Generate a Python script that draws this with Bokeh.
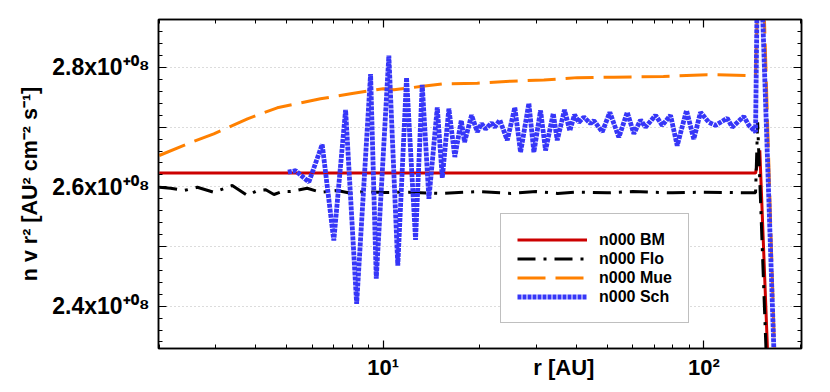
import numpy as np
from bokeh.plotting import figure
from bokeh.models import (FixedTicker, LogAxis, LinearAxis, Range1d, Legend,
                          LegendItem)
from bokeh.embed import file_html
from bokeh.resources import INLINE

# ---------------- data (values in units of 1e8 AU^2 cm^-2 s^-1) ----------------
bm_r = [2.0, 145.0, 149.5, 164.0]
bm_v = [2.623, 2.623, 2.661, 2.10]

flo_r = [2.0, 2.17, 2.39, 2.63, 2.96, 3.38, 3.77, 4.05, 4.30, 4.56, 4.84, 5.14,
         5.79, 6.37, 7.19, 7.91, 8.70, 10.04, 12.0, 15.0, 20.0, 25.0, 30.0, 35.0,
         40.0, 50.0, 60.0, 80.0, 100.0, 145.0, 147.2, 162.0]
flo_v = [2.5993, 2.5977, 2.5938, 2.5993, 2.5909, 2.6022, 2.5854, 2.5938, 2.5950,
         2.5871, 2.5921, 2.5921, 2.5977, 2.5909, 2.5938, 2.5893, 2.5921, 2.5904,
         2.591, 2.589, 2.592, 2.589, 2.592, 2.589, 2.591, 2.590, 2.592, 2.590,
         2.591, 2.590, 2.708, 2.10]

mue_r = [2.0, 2.45, 2.96, 3.77, 4.67, 6.37, 7.91, 10.0, 10.8, 13.07, 15.45,
         19.65, 24.96, 31.7, 40.3, 52.4, 74.8, 102.5, 136.6, 145.0, 150.2, 171.1]
mue_v = [2.6525, 2.672, 2.6888, 2.714, 2.7324, 2.7475, 2.756, 2.7643, 2.7626,
         2.768, 2.7727, 2.7737, 2.777, 2.779, 2.783, 2.7837, 2.785, 2.788,
         2.7866, 2.787, 3.10, 2.10]

sch_r = [5.04, 5.33, 5.86, 6.45, 7.01, 7.63, 8.26, 9.13, 9.51, 10.41, 11.10,
         11.82, 12.61, 13.23, 13.88, 14.74, 15.28, 16.02, 16.72, 17.51, 17.93,
         18.86, 19.65, 20.26, 20.85, 21.77, 22.29, 23.10, 24.37, 25.73, 26.81,
         28.46, 29.50, 30.95, 32.08, 33.91, 34.89, 36.77, 38.19, 39.51, 40.75,
         42.24, 44.33, 45.39, 48.21, 50.91, 54.31, 57.69, 60.49, 63.47, 65.79,
         70.70, 74.18, 78.73, 82.60, 88.31, 93.06, 97.65, 103.7, 108.8, 118.3,
         122.6, 133.3, 138.2, 145.0, 148.0, 170.9]
sch_v = [2.6245, 2.627, 2.608, 2.671, 2.510, 2.729, 2.404, 2.789, 2.446, 2.820,
         2.468, 2.783, 2.511, 2.771, 2.580, 2.733, 2.615, 2.731, 2.650, 2.711,
         2.675, 2.720, 2.692, 2.706, 2.697, 2.707, 2.700, 2.712, 2.678, 2.733,
         2.658, 2.740, 2.658, 2.728, 2.661, 2.723, 2.678, 2.729, 2.694, 2.721,
         2.708, 2.717, 2.706, 2.711, 2.692, 2.725, 2.683, 2.725, 2.689, 2.712,
         2.700, 2.720, 2.703, 2.720, 2.669, 2.728, 2.680, 2.725, 2.708, 2.703,
         2.715, 2.700, 2.718, 2.703, 2.692, 3.10, 2.10]

series_labels = ["n000 BM", "n000 Flo", "n000 Mue", "n000 Sch"]

x_major = [10, 100]
x_minor = [2, 3, 4, 5, 6, 7, 8, 9, 20, 30, 40, 50, 60, 70, 80, 90, 200]
x_label_pos = [10, 36.6, 100]
x_labels = {10: "10\u00b9", 36.6: "r [AU]", 100: "10\u00b2"}

y_major = [2.4e8, 2.5e8, 2.6e8, 2.7e8, 2.8e8]
y_minor = [round(2.34 + 0.02 * i, 2) * 1e8 for i in range(28)]
y_labels = {2.4e8: "2.4x10\u207a\u2070\u2078", 2.5e8: "",
            2.6e8: "2.6x10\u207a\u2070\u2078", 2.7e8: "",
            2.8e8: "2.8x10\u207a\u2070\u2078"}
y_title = "n v r\u00b2 [AU\u00b2 cm\u207b\u00b2 s\u207b\u00b9]"

SCALE = 1e8
FONT = "Liberation Sans"

p = figure(width=822, height=384, x_axis_type="log",
           x_range=Range1d(1.99, 201.7), y_range=Range1d(2.3291e8, 2.8804e8),
           output_backend="svg", toolbar_location=None,
           min_border_left=158, min_border_right=21,
           min_border_top=19, min_border_bottom=36)
p.background_fill_color = "white"
p.border_fill_color = "white"
p.outline_line_color = "black"
p.outline_line_width = 1.5

xt = FixedTicker(ticks=x_major, minor_ticks=x_minor)
yt = FixedTicker(ticks=y_major, minor_ticks=y_minor)


def style_axis(ax, size="22px"):
    ax.axis_line_color = "black"
    ax.axis_line_width = 1.5
    ax.major_tick_in = 8
    ax.major_tick_out = 0
    ax.minor_tick_in = 4
    ax.minor_tick_out = 0
    ax.major_tick_line_color = "black"
    ax.minor_tick_line_color = "black"
    ax.major_tick_line_width = 1.2
    ax.minor_tick_line_width = 1
    ax.major_label_text_font = FONT
    ax.major_label_text_font_style = "bold"
    ax.major_label_text_font_size = size
    ax.major_label_text_color = "black"


# bottom axis: tick marks only
xa = p.xaxis[0]
xa.ticker = xt
style_axis(xa)
xa.major_label_overrides = {10: "", 100: ""}
xa.major_label_text_font_size = "1px"
xa.major_label_standoff = 0

# bottom label row: tick labels and the axis title on one line
xl = LogAxis(ticker=FixedTicker(ticks=x_label_pos, minor_ticks=[]),
             major_label_overrides=x_labels)
style_axis(xl)
xl.axis_line_color = None
xl.major_tick_line_color = None
xl.minor_tick_line_color = None
xl.major_tick_in = 0
xl.minor_tick_in = 0
xl.major_label_standoff = 6
p.add_layout(xl, "below")

ya = p.yaxis[0]
ya.ticker = yt
style_axis(ya, "23px")
ya.major_label_overrides = y_labels
ya.major_label_standoff = 9
ya.axis_label = y_title
ya.axis_label_text_font = FONT
ya.axis_label_text_font_style = "bold"
ya.axis_label_text_font_size = "21.5px"
ya.axis_label_text_color = "black"
ya.axis_label_standoff = 7

top = LogAxis(ticker=xt, major_label_overrides={10: "", 100: ""},
              major_label_standoff=0)
style_axis(top)
top.major_label_text_font_size = "1px"
p.add_layout(top, "above")

right = LinearAxis(ticker=yt, major_label_overrides={k: "" for k in y_major},
                   major_label_standoff=0)
style_axis(right)
right.major_label_text_font_size = "1px"
p.add_layout(right, "right")

p.xgrid.visible = False
p.ygrid.ticker = yt
p.ygrid.grid_line_color = "#b8b8b8"
p.ygrid.grid_line_dash = "1 3"
p.ygrid.grid_line_width = 1

r1 = p.line(np.array(bm_r), np.array(bm_v) * SCALE, line_color="#cc0000",
            line_width=3)
r2 = p.line(np.array(flo_r), np.array(flo_v) * SCALE, line_color="black",
            line_width=3, line_dash="18 8 3 8")
r3 = p.line(np.array(mue_r), np.array(mue_v) * SCALE, line_color="#ff8000",
            line_width=3, line_dash="28 10")
r4 = p.line(np.array(sch_r), np.array(sch_v) * SCALE, line_color="#3636f8",
            line_width=4.8, line_dash="4 1")

legend = Legend(items=[LegendItem(label=lab, renderers=[r])
                       for lab, r in zip(series_labels, [r1, r2, r3, r4])],
                location=(342, 25))
legend.margin = 0
legend.padding = 16
legend.spacing = 0
legend.glyph_width = 70
legend.glyph_height = 19
legend.label_height = 19
legend.label_width = 72
legend.label_standoff = 12
legend.label_text_font = FONT
legend.label_text_font_style = "bold"
legend.label_text_font_size = "16px"
legend.label_text_color = "black"
legend.border_line_color = "#808080"
legend.border_line_width = 1
legend.background_fill_color = "white"
legend.background_fill_alpha = 1
p.add_layout(legend, "center")

open("out.html", "w").write(file_html(p, INLINE))
